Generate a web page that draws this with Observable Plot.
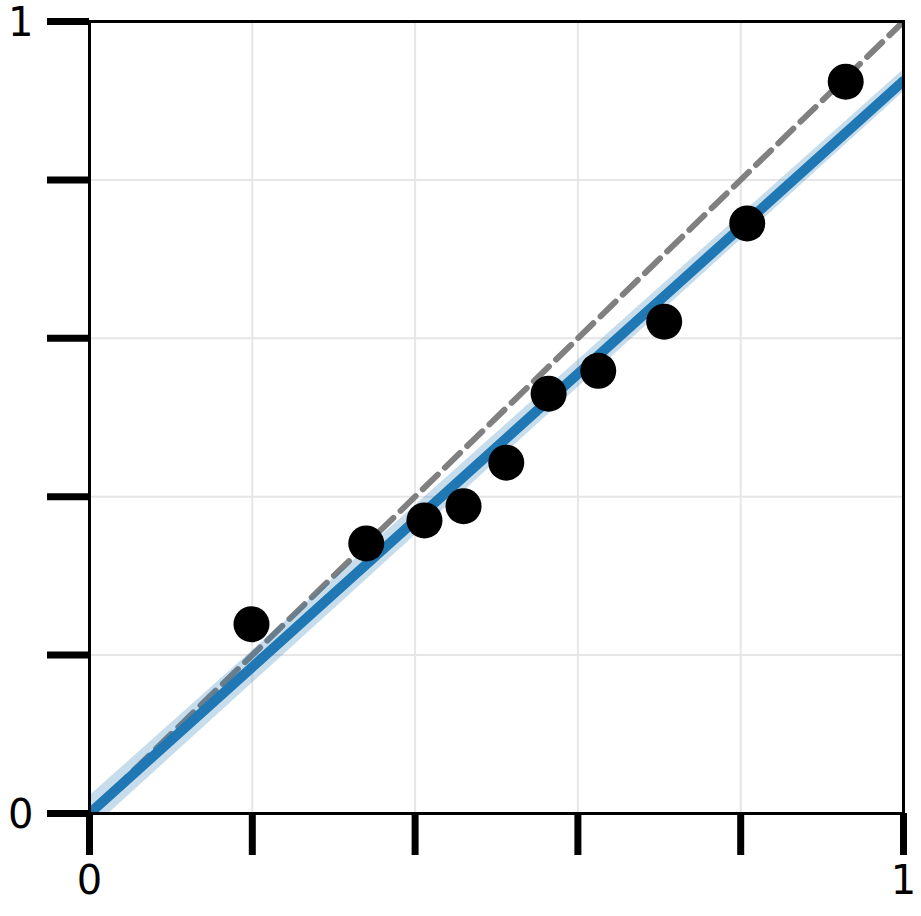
<!DOCTYPE html>
<html>
<head>
<meta charset="utf-8">
<script src="https://cdn.jsdelivr.net/npm/d3@7"></script>
<script src="https://cdn.jsdelivr.net/npm/@observablehq/plot@0.6"></script>
<style>
  html, body { margin: 0; padding: 0; background: #fff; }
  svg { font-family: "DejaVu Sans", sans-serif; overflow: visible; }
</style>
</head>
<body>
<div id="chart"></div>
<script>
// Observed points
const pointX = [0.199, 0.340, 0.4115, 0.4595, 0.512, 0.564, 0.625, 0.706, 0.808, 0.929];
const pointY = [0.239, 0.341, 0.370, 0.388, 0.443, 0.530, 0.559, 0.621, 0.745, 0.924];

// Fitted line and its band
const fitX = [0, 1];
const fitY = [0, 0.925];
const bandLow = [-0.022, 0.911];
const bandHigh = [0.022, 0.939];

// Identity reference line
const refX = [0, 1];
const refY = [0, 1];

// Ticks
const xTicks = [0, 0.2, 0.4, 0.6, 0.8, 1];
const yTicks = [0, 0.2, 0.4, 0.6, 0.8, 1];
const tickLabels = {0: "0", 1: "1"};

const points = pointX.map((x, i) => ({x, y: pointY[i]}));
const fit = fitX.map((x, i) => ({x, y: fitY[i], lo: bandLow[i], hi: bandHigh[i]}));
const ref = refX.map((x, i) => ({x, y: refY[i]}));
const fmt = d => tickLabels[d] ?? "";

const chart = Plot.plot({
  width: 921,
  height: 916,
  marginLeft: 89,
  marginRight: 18,
  marginTop: 21,
  marginBottom: 103,
  x: {domain: [0, 1]},
  y: {domain: [0, 1]},
  style: {fontFamily: "DejaVu Sans, sans-serif", color: "black", background: "white"},
  marks: [
    Plot.gridX(xTicks, {stroke: "#e6e6e6", strokeOpacity: 1, strokeWidth: 2}),
    Plot.gridY(yTicks, {stroke: "#e6e6e6", strokeOpacity: 1, strokeWidth: 2}),
    Plot.line(ref, {x: "x", y: "y", stroke: "#808080", strokeWidth: 6, strokeDasharray: "21,10", clip: true}),
    Plot.areaY(fit, {x: "x", y1: "lo", y2: "hi", fill: "#1f77b4", fillOpacity: 0.25, clip: true}),
    Plot.line(fit, {x: "x", y: "y", stroke: "#1f77b4", strokeWidth: 10, clip: true}),
    Plot.dot(points, {x: "x", y: "y", r: 18, fill: "black", stroke: "none"}),
    Plot.axisX({ticks: xTicks, tickFormat: fmt, tickSize: 42, tickPadding: 10, strokeWidth: 7, fontSize: 40, label: null, strokeLinecap: "butt"}),
    Plot.axisY({ticks: yTicks, tickFormat: () => "", tickSize: 42, strokeWidth: 7, label: null, strokeLinecap: "butt"}),
    Plot.axisY({ticks: yTicks, tickFormat: fmt, tickSize: 0, tickPadding: 56, dy: 2, fontSize: 40, label: null}),
    Plot.frame({stroke: "black", strokeWidth: 3})
  ]
});
document.getElementById("chart").appendChild(chart);
</script>
</body>
</html>
